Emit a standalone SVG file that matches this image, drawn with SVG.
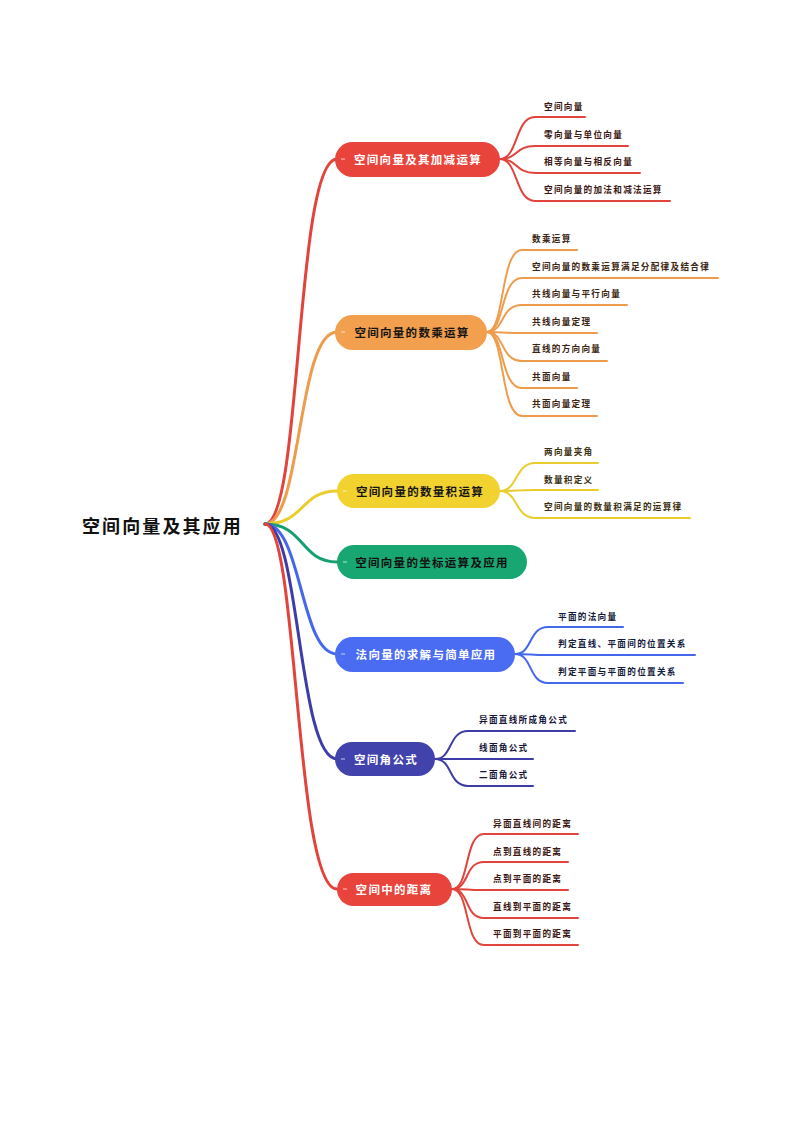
<svg xmlns="http://www.w3.org/2000/svg" width="794" height="1123" viewBox="0 0 794 1123">
<style>
  text { font-family: "Noto Sans CJK SC", "Noto Sans", sans-serif; dominant-baseline: central; }
  .root { font-size: 18px; font-weight: bold; letter-spacing: 2.1px; fill: #111111; }
  .main { font-size: 11.5px; font-weight: bold; letter-spacing: 1.3px; text-anchor: middle; }
  .sub { font-size: 8.6px; font-weight: bold; letter-spacing: 1.3px; }
  .conn { fill: none; stroke-linecap: round; stroke-linejoin: round; }
  .rc { stroke-width: 3; }
  .bc { stroke-width: 2; }
  .tick { stroke: #ffffff; stroke-width: 1; opacity: 0.7; }
</style>
<rect width="794" height="1123" fill="#ffffff"/>

<g id="connectors">
  <path class="conn rc" stroke="#E2433B" d="M265 524 C302 524 295 159 337 159"/>
  <path class="conn rc" stroke="#EE9C4C" d="M265 524 C302 524 297 332 337 332"/>
  <path class="conn rc" stroke="#EACD2C" d="M265 524 C305 524 300 491 337 491"/>
  <path class="conn rc" stroke="#16A06E" d="M265 524 C305 524 300 562 337 562"/>
  <path class="conn rc" stroke="#4567EE" d="M265 524 C302 524 300 654 337 654"/>
  <path class="conn rc" stroke="#3E3DA6" d="M265 524 C300 524 298 759 337 759"/>
  <path class="conn rc" stroke="#E2433B" d="M265 524 C298 524 295 889 337 889"/>

  <g stroke="#E2433B" class="conn bc">
    <path d="M500 159 C518 159 515 117 535 117 L585 117"/>
    <path d="M500 159 C518 159 515 146 535 146 L628 146"/>
    <path d="M500 159 C518 159 515 173 535 173 L640 173"/>
    <path d="M500 159 C518 159 515 201 535 201 L670 201"/>
  </g>
  <g stroke="#EE9C4C" class="conn bc">
    <path d="M487 332 C505 332 500 250 522 250 L577 250"/>
    <path d="M487 332 C505 332 500 278 522 278 L718 278"/>
    <path d="M487 332 C505 332 500 305 522 305 L627 305"/>
    <path d="M487 332 C505 332 500 333 522 333 L597 333"/>
    <path d="M487 332 C505 332 500 361 522 361 L607 361"/>
    <path d="M487 332 C505 332 500 388 522 388 L577 388"/>
    <path d="M487 332 C505 332 500 416 522 416 L597 416"/>
  </g>
  <g stroke="#EACD2C" class="conn bc">
    <path d="M500 491 C518 491 515 463 535 463 L598 463"/>
    <path d="M500 491 C518 491 515 490 535 490 L598 490"/>
    <path d="M500 491 C518 491 515 518 535 518 L690 518"/>
  </g>
  <g stroke="#4567EE" class="conn bc">
    <path d="M515 654 C533 654 528 627 548 627 L623 627"/>
    <path d="M515 654 C533 654 528 655 548 655 L695 655"/>
    <path d="M515 654 C533 654 528 683 548 683 L683 683"/>
  </g>
  <g stroke="#3E3DA6" class="conn bc">
    <path d="M435 759 C453 759 448 731 468 731 L575 731"/>
    <path d="M435 759 C453 759 448 759 468 759 L533 759"/>
    <path d="M435 759 C453 759 448 786 468 786 L533 786"/>
  </g>
  <g stroke="#E2433B" class="conn bc">
    <path d="M452 889 C470 889 464 834 484 834 L578 834"/>
    <path d="M452 889 C470 889 464 862 484 862 L568 862"/>
    <path d="M452 889 C470 889 464 890 484 890 L568 890"/>
    <path d="M452 889 C470 889 464 918 484 918 L578 918"/>
    <path d="M452 889 C470 889 464 945 484 945 L578 945"/>
  </g>
</g>

<g id="root">
  <text class="root" x="82" y="525">空间向量及其应用</text>
</g>

<g id="node1">
  <rect x="335" y="142" width="165" height="35" rx="17.5" fill="#E8443B"/>
  <line class="tick" x1="341" y1="159" x2="345" y2="159"/>
  <text class="main" x="418" y="159" fill="#ffffff">空间向量及其加减运算</text>
  <g class="sub" fill="#3A1410">
    <text x="544" y="106">空间向量</text>
    <text x="544" y="134">零向量与单位向量</text>
    <text x="544" y="161">相等向量与相反向量</text>
    <text x="544" y="189">空间向量的加法和减法运算</text>
  </g>
</g>

<g id="node2">
  <rect x="335" y="315" width="152" height="35" rx="17.5" fill="#F29F4E"/>
  <line class="tick" x1="341" y1="332" x2="345" y2="332"/>
  <text class="main" x="412" y="332" fill="#151515">空间向量的数乘运算</text>
  <g class="sub" fill="#3A2410">
    <text x="532" y="238">数乘运算</text>
    <text x="532" y="266">空间向量的数乘运算满足分配律及结合律</text>
    <text x="532" y="293">共线向量与平行向量</text>
    <text x="532" y="321">共线向量定理</text>
    <text x="532" y="348">直线的方向向量</text>
    <text x="532" y="376">共面向量</text>
    <text x="532" y="403">共面向量定理</text>
  </g>
</g>

<g id="node3">
  <rect x="337" y="474" width="163" height="34" rx="17" fill="#F2D22F"/>
  <line class="tick" x1="343" y1="491" x2="347" y2="491"/>
  <text class="main" x="420" y="491" fill="#151515">空间向量的数量积运算</text>
  <g class="sub" fill="#3A3010">
    <text x="544" y="451">两向量夹角</text>
    <text x="544" y="479">数量积定义</text>
    <text x="544" y="506">空间向量的数量积满足的运算律</text>
  </g>
</g>

<g id="node4">
  <rect x="337" y="545" width="190" height="34" rx="17" fill="#18A672"/>
  <line class="tick" x1="343" y1="562" x2="347" y2="562"/>
  <text class="main" x="432" y="562" fill="#101010">空间向量的坐标运算及应用</text>
</g>

<g id="node5">
  <rect x="335" y="637" width="180" height="35" rx="17.5" fill="#4A6CF2"/>
  <line class="tick" x1="341" y1="654" x2="345" y2="654"/>
  <text class="main" x="426" y="654" fill="#ffffff">法向量的求解与简单应用</text>
  <g class="sub" fill="#121A3A">
    <text x="558" y="616">平面的法向量</text>
    <text x="558" y="643">判定直线、平面间的位置关系</text>
    <text x="558" y="671">判定平面与平面的位置关系</text>
  </g>
</g>

<g id="node6">
  <rect x="335" y="742" width="100" height="34" rx="17" fill="#4242AC"/>
  <line class="tick" x1="341" y1="759" x2="345" y2="759"/>
  <text class="main" x="386" y="759" fill="#ffffff">空间角公式</text>
  <g class="sub" fill="#15153A">
    <text x="479" y="719">异面直线所成角公式</text>
    <text x="479" y="747">线面角公式</text>
    <text x="479" y="774">二面角公式</text>
  </g>
</g>

<g id="node7">
  <rect x="337" y="873" width="115" height="33" rx="16.5" fill="#E8443B"/>
  <line class="tick" x1="343" y1="889" x2="347" y2="889"/>
  <text class="main" x="394" y="889" fill="#ffffff">空间中的距离</text>
  <g class="sub" fill="#3A1410">
    <text x="493" y="823">异面直线间的距离</text>
    <text x="493" y="851">点到直线的距离</text>
    <text x="493" y="878">点到平面的距离</text>
    <text x="493" y="906">直线到平面的距离</text>
    <text x="493" y="933">平面到平面的距离</text>
  </g>
</g>
</svg>
